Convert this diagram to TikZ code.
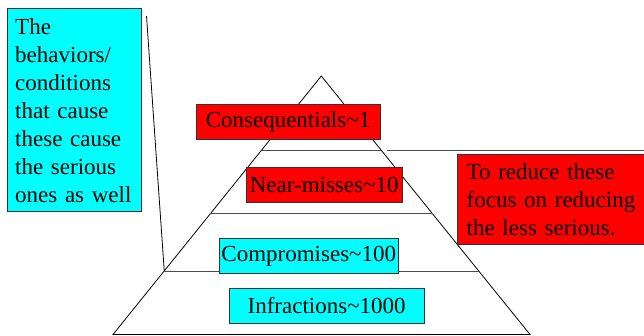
\documentclass[tikz,border=0pt]{standalone}
\usepackage{fontspec}
\setmainfont{Liberation Serif}
\usetikzlibrary{calc}
\definecolor{hotred}{RGB}{255,0,0}
\definecolor{aqua}{RGB}{0,255,255}

\begin{document}
\begin{tikzpicture}[x=1pt,y=1pt,line width=0.8pt]
\tikzstyle{lbl}=[draw=black!80,font=\fontsize{23}{28}\selectfont,minimum height=35pt,inner sep=0pt];
\tikzstyle{note}=[draw=black!80,font=\fontsize{23}{28}\selectfont,align=left,anchor=north west];
\tikzstyle{divider}=[draw=black!70];
\useasboundingbox (0,0) rectangle (644,335);
\clip (0,0) rectangle (644,335);
\coordinate (top) at (321.3,259);
\coordinate (bl) at (113,0.5);
\coordinate (br) at (530,0.5);
\draw (top) -- (bl) -- (br) -- cycle;
\coordinate (d1l) at ($(top)!0.286!(bl)$);
\coordinate (d1r) at ($(top)!0.286!(br)$);
\coordinate (d2l) at ($(top)!0.533!(bl)$);
\coordinate (d2r) at ($(top)!0.533!(br)$);
\coordinate (d3l) at ($(top)!0.754!(bl)$);
\coordinate (d3r) at ($(top)!0.754!(br)$);
\draw[divider] (d1l) -- (d1r);
\draw[divider] (d2l) -- (d2r);
\draw[divider] (d3l) -- (d3r);
\node (cons) [lbl,fill=hotred,minimum width=184pt] at (288,213.2) {Consequentials\textasciitilde1};
\node (near) [lbl,fill=hotred,minimum width=156pt] at (324.2,149.8) {Near-misses\textasciitilde10};
\node (comp) [lbl,fill=aqua,minimum width=179.5pt] at (308.8,78.7) {Compromises\textasciitilde100};
\node (infr) [lbl,fill=aqua,minimum width=195pt] at (326.7,29.2) {Infractions\textasciitilde1000};
\node (cause) [note,fill=aqua,text width=119pt,inner xsep=7.5pt,minimum height=203pt] at (7.3,326.7)
  {The\\behaviors/\\conditions\\that cause\\these cause\\the serious\\ones as well};
\node (reduce) [note,fill=hotred,text width=200pt,inner xsep=9pt,minimum height=90pt] at (457.3,180.7)
  {To reduce these\\focus on reducing\\the less serious.};
\coordinate (ctop) at (146.5,319);
\draw (ctop) -- (d3l);
\coordinate (rs) at (387,185);
\coordinate (re) at (644,185);
\draw[divider] (rs) -- (re);
\end{tikzpicture}
\end{document}
